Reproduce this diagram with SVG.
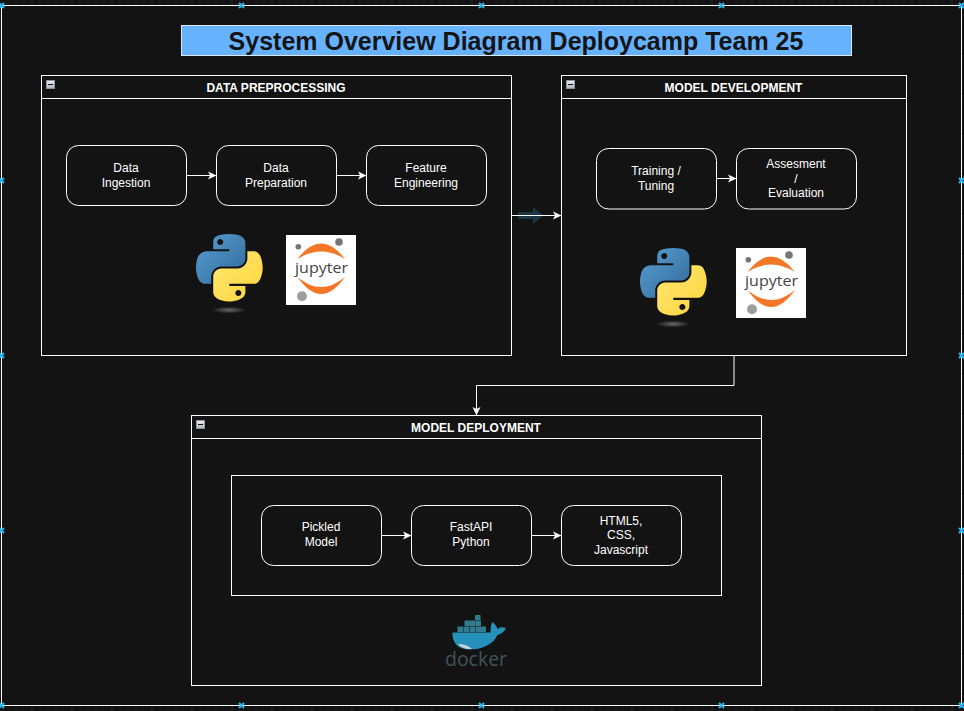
<svg xmlns="http://www.w3.org/2000/svg" width="964" height="711" viewBox="0 0 964 711">
<style>
.box{fill:#131313;stroke:#fff;stroke-width:1}
.node{fill:#131313;stroke:#fff;stroke-width:1}
.hdr{stroke:#fff;stroke-width:1}
text{font-family:"Liberation Sans",Arial,sans-serif}
.t{font-size:12px;fill:#fff;text-anchor:middle}
.h{font-size:12px;font-weight:bold;fill:#fff;text-anchor:middle}
.conn{fill:none;stroke:#fff;stroke-width:1}
.hd{fill:none;stroke:#29b6f2;stroke-width:2}
</style>
<defs>
<pattern id="grid" width="40" height="40" patternUnits="userSpaceOnUse" x="-8.5" y="-24.5">
<path d="M8 0V40M16 0V40M24 0V40M32 0V40M0 8H40M0 16H40M0 24H40M0 32H40" stroke="#1c1c1c" stroke-width="1" fill="none"/>
<path d="M0 0V40M0 0H40" stroke="#2c2c2c" stroke-width="2" fill="none"/>
</pattern>
<marker id="arr" markerUnits="userSpaceOnUse" markerWidth="10" markerHeight="10" refX="8.5" refY="5" orient="auto">
<path d="M8.500 5L0 1L2.100 5L0 9Z" fill="#fff"/>
</marker>
<linearGradient id="colBtn" x1="0" y1="0" x2="0" y2="1"><stop offset="0" stop-color="#eef0f2"/><stop offset="1" stop-color="#aeb4bc"/></linearGradient>
<linearGradient id="pyB" x1="0" y1="0" x2="1" y2="1"><stop offset="0" stop-color="#5a9fd4"/><stop offset="1" stop-color="#306998"/></linearGradient>
<linearGradient id="pyY" x1="0" y1="0" x2="1" y2="1"><stop offset="0" stop-color="#ffe873"/><stop offset="1" stop-color="#ffd43b"/></linearGradient>
<radialGradient id="pyS"><stop offset="0" stop-color="#6a6a6a"/><stop offset="1" stop-color="#131313"/></radialGradient>
<g id="py">
<path fill="url(#pyB)" fill-rule="evenodd" d="M54.919.001c-4.584.022-8.961.413-12.813 1.095C30.76 3.099 28.7 7.295 28.7 15.032v10.219h26.813v3.406H18.638c-7.793 0-14.616 4.684-16.75 13.594-2.462 10.213-2.571 16.586 0 27.25 1.906 7.938 6.457 13.594 14.25 13.594h9.219v-12.25c0-8.85 7.657-16.656 16.75-16.656h26.781c7.455 0 13.406-6.138 13.406-13.625V15.032c0-7.266-6.13-12.725-13.406-13.937C64.282.328 59.502-.02 54.919.001zM40.419 8.22c2.77 0 5.031 2.299 5.031 5.125 0 2.816-2.262 5.094-5.031 5.094-2.779 0-5.031-2.277-5.031-5.094 0-2.826 2.252-5.125 5.031-5.125z"/>
<path fill="url(#pyY)" fill-rule="evenodd" d="M85.638 28.657v11.906c0 9.231-7.826 17-16.75 17H42.106c-7.336 0-13.406 6.278-13.406 13.625v25.531c0 7.266 6.319 11.54 13.406 13.625 8.487 2.496 16.626 2.947 26.781 0 6.75-1.954 13.406-5.888 13.406-13.625V86.501H55.513v-3.406h40.187c7.793 0 10.696-5.436 13.406-13.594 2.799-8.399 2.741-16.476 0-27.25-1.926-7.757-5.604-13.594-13.406-13.594zM70.575 93.313c2.779 0 5.031 2.277 5.031 5.094 0 2.826-2.252 5.125-5.031 5.125-2.77 0-5.031-2.299-5.031-5.125 0-2.816 2.262-5.094 5.031-5.094z"/>
</g>
<g id="jup">
<rect width="70" height="70" fill="#fff"/>
<path fill="#f37726" d="M11.500 24Q35-7 59 24Q35 9 11.500 24Z"/>
<path fill="#f37726" d="M11.500 42Q35 76 59 42Q35 62 11.500 42Z"/>
<circle cx="12.300" cy="11.700" r="2.800" fill="#767677"/>
<circle cx="53" cy="7" r="3.800" fill="#767677"/>
<circle cx="16" cy="61.300" r="5" fill="#9e9e9e"/>
<text x="9" y="38" font-size="15" textLength="53" lengthAdjust="spacingAndGlyphs" style="font-family:'Open Sans',sans-serif;fill:#444">jupyter</text>
</g>
<path id="hnd" class="hd" d="M-2.500-2.500L2.500 2.500M2.500-2.500L-2.500 2.500"/>
<g id="btn"><rect x=".5" y=".5" width="8" height="8" fill="url(#colBtn)" stroke="#8a93a0"/><path d="M2 4.500H7" stroke="#111" stroke-width="1"/></g>
</defs>

<rect width="964" height="711" fill="#121212"/>
<rect width="964" height="711" fill="url(#grid)"/>
<rect id="frame" x="1.500" y="5.500" width="960" height="700" fill="#131313" stroke="#fff"/>

<g id="title"><rect x="181.500" y="25.500" width="670" height="30" fill="#66b2ff" stroke="#dae8fc"/>
<text x="516" y="50" font-size="25" font-weight="bold" text-anchor="middle" fill="#141414">System Overview Diagram Deploycamp Team 25</text></g>

<g id="data-preprocessing"><rect class="box" x="41.500" y="75.500" width="470" height="280"/><path class="hdr" d="M41.500 98.500H511.500"/><use href="#btn" x="46" y="80"/><text class="h" x="276" y="92">DATA PREPROCESSING</text></g>
<g id="model-development"><rect class="box" x="561.500" y="75.500" width="345" height="280"/><path class="hdr" d="M561.500 98.500H906.500"/><use href="#btn" x="566" y="80"/><text class="h" x="733.500" y="92">MODEL DEVELOPMENT</text></g>
<g id="model-deployment"><rect class="box" x="191.500" y="415.500" width="570" height="270"/><path class="hdr" d="M191.500 438.500H761.500"/><use href="#btn" x="196" y="420"/><text class="h" x="476" y="432">MODEL DEPLOYMENT</text>
<rect class="box" x="231.500" y="475.500" width="490" height="120"/></g>

<g id="connectors">
<path d="M518 212H533V207L543.500 215.500L533 224V219H518Z" fill="#1d3644"/>
<path class="conn" marker-end="url(#arr)" d="M186.500 175.500H216.500"/>
<path class="conn" marker-end="url(#arr)" d="M336.500 175.500H366.500"/>
<path class="conn" marker-end="url(#arr)" d="M511.500 215.500H561.500"/>
<path class="conn" marker-end="url(#arr)" d="M716.500 178.500H736.500"/>
<path class="conn" marker-end="url(#arr)" d="M734 355.500V385.500H476.500V415.500"/>
<path class="conn" marker-end="url(#arr)" d="M381.500 535.500H411.500"/>
<path class="conn" marker-end="url(#arr)" d="M531.500 535.500H561.500"/>
</g>

<g id="data-ingestion"><rect class="node" x="66.500" y="145.500" width="120" height="60" rx="12"/><text class="t" x="126" y="172">Data</text><text class="t" x="126" y="187">Ingestion</text></g>
<g id="data-preparation"><rect class="node" x="216.500" y="145.500" width="120" height="60" rx="12"/><text class="t" x="276" y="172">Data</text><text class="t" x="276" y="187">Preparation</text></g>
<g id="feature-engineering"><rect class="node" x="366.500" y="145.500" width="120" height="60" rx="12"/><text class="t" x="426" y="172">Feature</text><text class="t" x="426" y="187">Engineering</text></g>
<g id="training"><rect class="node" x="596.500" y="148.500" width="120" height="60.500" rx="12"/><text class="t" x="656" y="175">Training /</text><text class="t" x="656" y="190">Tuning</text></g>
<g id="evaluation"><rect class="node" x="736.500" y="148.500" width="120" height="60.500" rx="12"/><text class="t" x="796" y="168">Assesment</text><text class="t" x="796" y="182.500">/</text><text class="t" x="796" y="197">Evaluation</text></g>
<g id="pickled-model"><rect class="node" x="261.500" y="505.500" width="120" height="60" rx="12"/><text class="t" x="321" y="531">Pickled</text><text class="t" x="321" y="546">Model</text></g>
<g id="fastapi"><rect class="node" x="411.500" y="505.500" width="120" height="60" rx="12"/><text class="t" x="471" y="531">FastAPI</text><text class="t" x="471" y="546">Python</text></g>
<g id="frontend"><rect class="node" x="561.500" y="505.500" width="120" height="60" rx="12"/><text class="t" x="621" y="524.500">HTML5,</text><text class="t" x="621" y="539">CSS,</text><text class="t" x="621" y="553.500">Javascript</text></g>

<g id="python-1"><ellipse cx="229" cy="310" rx="17" ry="3.500" fill="url(#pyS)"/><use href="#py" transform="translate(196 234) scale(.6)"/></g>
<g id="jupyter-1"><use href="#jup" x="286" y="235"/></g>
<g id="python-2"><ellipse cx="673" cy="324" rx="17" ry="3.500" fill="url(#pyS)"/><use href="#py" transform="translate(640 248) scale(.6)"/></g>
<g id="jupyter-2"><use href="#jup" x="736" y="248"/></g>

<g id="docker">
<g fill="#2f7b90">
<rect x="457.500" y="626.500" width="5.500" height="5.500"/><rect x="463.500" y="626.500" width="5.500" height="5.500"/><rect x="469.500" y="626.500" width="5.500" height="5.500"/><rect x="475.500" y="626.500" width="5.500" height="5.500"/><rect x="481" y="626.500" width="5" height="5.500"/>
<rect x="464.500" y="620.500" width="5.500" height="5.500"/><rect x="470" y="620.500" width="5.500" height="5.500"/><rect x="475.500" y="620.500" width="5.500" height="5.500"/>
<rect x="475" y="615" width="5.500" height="5"/>
</g>
<path fill="#2590ba" d="M452.500 632.500H490.500C491 630 490 626 492.500 622C495 624 497 627 497.500 629C500 627 503 627 506 628C504 632 501 634 497.500 635C493 645 481 649.500 470 649.500C458 649.500 452 643 452.500 632.500Z"/>
<path fill="#c5d2d6" d="M458 644C462 644 468 645 472 649C466 649.500 461 648 458 644Z"/>
<text x="445" y="666" font-size="20" textLength="62" lengthAdjust="spacingAndGlyphs" style="font-family:'Open Sans',sans-serif;fill:#42525a">docker</text>
</g>

<g id="handles">
<use href="#hnd" x="1.500" y="5.500"/><use href="#hnd" x="241.500" y="5.500"/><use href="#hnd" x="481.500" y="5.500"/><use href="#hnd" x="721.500" y="5.500"/><use href="#hnd" x="961.500" y="5.500"/>
<use href="#hnd" x="1.500" y="180.500"/><use href="#hnd" x="961.500" y="180.500"/>
<use href="#hnd" x="1.500" y="355.500"/><use href="#hnd" x="961.500" y="355.500"/>
<use href="#hnd" x="1.500" y="530.500"/><use href="#hnd" x="961.500" y="530.500"/>
<use href="#hnd" x="1.500" y="705.500"/><use href="#hnd" x="241.500" y="705.500"/><use href="#hnd" x="481.500" y="705.500"/><use href="#hnd" x="721.500" y="705.500"/><use href="#hnd" x="961.500" y="705.500"/>
</g>
</svg>
